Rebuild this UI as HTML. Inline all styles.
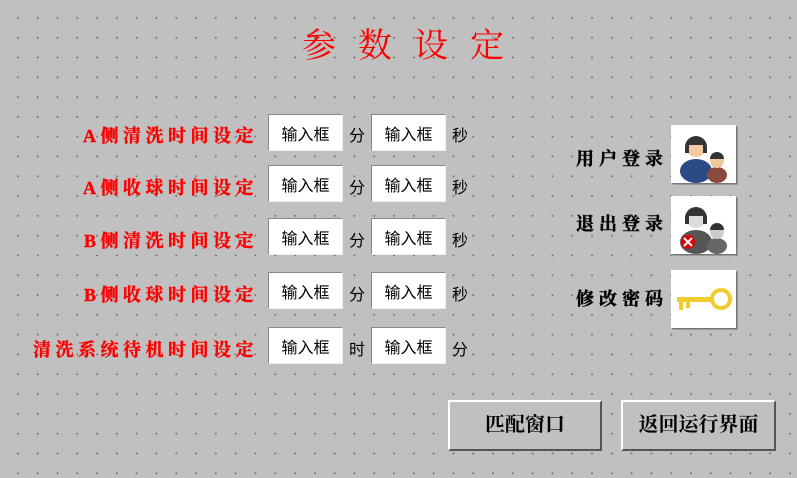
<!DOCTYPE html>
<html><head><meta charset="utf-8"><style>
body{margin:0;width:797px;height:478px;overflow:hidden;background-color:#c0c0c0;
background-image:radial-gradient(circle,#6a6a6a 0.7px,transparent 1.1px);background-size:19.8px 19.8px;background-position:8px 8px;
font-family:"Liberation Serif","Noto Serif CJK SC",serif;position:relative}
.a{position:absolute}
.t{left:0;width:828px;text-align:center;top:18px;font-size:34px;color:#f00;letter-spacing:22px;font-family:"Liberation Serif","Noto Serif CJK SC",serif}
.l{right:539px;color:#f00;font-weight:bold;font-size:18px;white-space:nowrap;letter-spacing:4.5px;-webkit-text-stroke:0.4px #f00}
.in{width:75px;height:37px;background:#fff;border:1px solid #888;border-right-color:#eee;border-bottom-color:#eee;box-sizing:border-box;display:flex;align-items:center;justify-content:center;font-size:16px;font-family:"Liberation Sans","Noto Sans CJK SC",sans-serif;color:#000}
.u{font-size:16px;font-family:"Liberation Sans","Noto Sans CJK SC",sans-serif}
.r{left:576px;font-size:18px;font-weight:bold;letter-spacing:5px;-webkit-text-stroke:0.4px #000}
.ic{left:671px;width:65px;height:58px;background:#fff;box-shadow:1px 1px 0 #777,2px 2px 0 #999}
.b{height:51px;background:#c0c0c0;border:2px solid;border-color:#fff #555 #555 #fff;box-sizing:border-box;text-align:center;line-height:47px;font-size:20px;font-weight:bold;font-family:"Liberation Serif","Noto Serif CJK SC",serif}
</style></head><body>
<div class="a t">参数设定</div>

<div class="a l" style="top:122px">A侧清洗时间设定</div>
<div class="a l" style="top:174px">A侧收球时间设定</div>
<div class="a l" style="top:227px">B侧清洗时间设定</div>
<div class="a l" style="top:281px">B侧收球时间设定</div>
<div class="a l" style="top:336px">清洗系统待机时间设定</div>

<div class="a in" style="left:268px;top:114px">输入框</div><div class="a u" style="left:349px;top:122px">分</div><div class="a in" style="left:371px;top:114px">输入框</div><div class="a u" style="left:452px;top:122px">秒</div>
<div class="a in" style="left:268px;top:165px">输入框</div><div class="a u" style="left:349px;top:174px">分</div><div class="a in" style="left:371px;top:165px">输入框</div><div class="a u" style="left:452px;top:174px">秒</div>
<div class="a in" style="left:268px;top:218px">输入框</div><div class="a u" style="left:349px;top:227px">分</div><div class="a in" style="left:371px;top:218px">输入框</div><div class="a u" style="left:452px;top:227px">秒</div>
<div class="a in" style="left:268px;top:272px">输入框</div><div class="a u" style="left:349px;top:281px">分</div><div class="a in" style="left:371px;top:272px">输入框</div><div class="a u" style="left:452px;top:281px">秒</div>
<div class="a in" style="left:268px;top:327px">输入框</div><div class="a u" style="left:349px;top:336px">时</div><div class="a in" style="left:371px;top:327px">输入框</div><div class="a u" style="left:452px;top:336px">分</div>

<div class="a r" style="top:145px">用户登录</div>
<div class="a r" style="top:210px">退出登录</div>
<div class="a r" style="top:285px">修改密码</div>

<div class="a ic" style="top:125px"><svg width="65" height="58">
<ellipse cx="25" cy="46" rx="16" ry="12" fill="#2c4a86"/><circle cx="25" cy="22" r="10" fill="#f2c9a0"/><path d="M14 22a11 11 0 0 1 22 0v6h-4v-8h-14v8h-4z" fill="#333"/>
<ellipse cx="46" cy="50" rx="10" ry="8" fill="#8a4a3e"/><circle cx="46" cy="36" r="7" fill="#f0c8a0"/><path d="M39 34a7 7 0 0 1 14 0z" fill="#333"/></svg></div>
<div class="a ic" style="top:196px"><svg width="65" height="58">
<ellipse cx="25" cy="46" rx="16" ry="12" fill="#555"/><circle cx="25" cy="22" r="10" fill="#ddd"/><path d="M14 22a11 11 0 0 1 22 0v6h-4v-8h-14v8h-4z" fill="#333"/>
<ellipse cx="46" cy="50" rx="10" ry="8" fill="#666"/><circle cx="46" cy="36" r="7" fill="#ccc"/><path d="M39 34a7 7 0 0 1 14 0z" fill="#333"/>
<circle cx="17" cy="46" r="7" fill="#d00"/><path d="M13 42l8 8M21 42l-8 8" stroke="#fff" stroke-width="2"/></svg></div>
<div class="a ic" style="top:270px"><svg width="65" height="58">
<circle cx="50" cy="29" r="9" fill="none" stroke="#f2cc2e" stroke-width="4"/><rect x="6" y="27" width="36" height="5" fill="#f2cc2e"/><rect x="8" y="32" width="4" height="8" fill="#f2cc2e"/><rect x="15" y="32" width="4" height="6" fill="#f2cc2e"/></svg></div>

<div class="a b" style="left:448px;top:400px;width:154px">匹配窗口</div>
<div class="a b" style="left:621px;top:400px;width:155px">返回运行界面</div>
</body></html>
